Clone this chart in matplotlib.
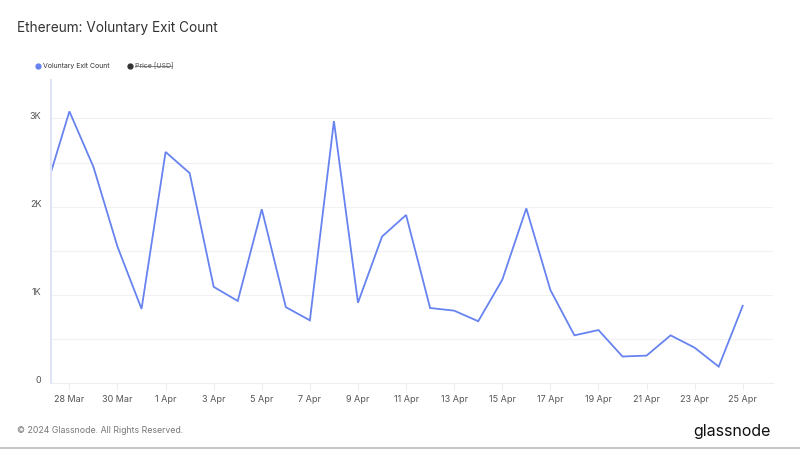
import datetime
import matplotlib
matplotlib.use("Agg")
import matplotlib.pyplot as plt
import matplotlib.dates as mdates
import matplotlib.transforms as mtransforms
from matplotlib.lines import Line2D

# daily voluntary exit count
dates = ["2024-03-27", "2024-03-28", "2024-03-29", "2024-03-30", "2024-03-31",
         "2024-04-01", "2024-04-02", "2024-04-03", "2024-04-04", "2024-04-05",
         "2024-04-06", "2024-04-07", "2024-04-08", "2024-04-09", "2024-04-10",
         "2024-04-11", "2024-04-12", "2024-04-13", "2024-04-14", "2024-04-15",
         "2024-04-16", "2024-04-17", "2024-04-18", "2024-04-19", "2024-04-20",
         "2024-04-21", "2024-04-22", "2024-04-23", "2024-04-24", "2024-04-25"]
exits = [2180, 3080, 2450, 1545, 840, 2620, 2380, 1090, 930, 1970,
         860, 710, 2970, 910, 1660, 1905, 850, 820, 700, 1170,
         1980, 1055, 540, 600, 300, 310, 540, 400, 185, 875]
tick_days = ["2024-03-28", "2024-03-30", "2024-04-01", "2024-04-03", "2024-04-05",
             "2024-04-07", "2024-04-09", "2024-04-11", "2024-04-13", "2024-04-15",
             "2024-04-17", "2024-04-19", "2024-04-21", "2024-04-23", "2024-04-25"]
y_ticks = [0, 1000, 2000, 3000]
y_labels = ["0", "1K", "2K", "3K"]

x_ax = [datetime.datetime.strptime(d, "%Y-%m-%d") for d in dates]
ticks = [datetime.datetime.strptime(d, "%Y-%m-%d") for d in tick_days]

plt.rcParams["font.family"] = ["Inter", "DejaVu Sans"]
fig = plt.figure(figsize=(8, 4.5), dpi=100)
ax = fig.add_axes([0.064, 0.149, 0.902, 0.673])

ax.plot(x_ax, exits, color="#6783f0", linewidth=1.3, solid_joinstyle="miter")

x0 = datetime.datetime(2024, 3, 27, 5, 50)
x1 = datetime.datetime(2024, 4, 26, 6, 0)
ax.set_xlim(x0, x1)
ax.set_ylim(0, 3435)

ax.set_yticks(y_ticks)
ax.set_yticklabels(y_labels)
ax.set_yticks([500, 1500, 2500], minor=True)
ax.grid(True, which="both", axis="y", color="#f1f1f3", linewidth=0.8)
ax.set_xticks(ticks)
ax.xaxis.set_major_formatter(mdates.DateFormatter("%-d %b"))

ax.tick_params(axis="y", which="both", length=0, labelsize=6.5, labelcolor="#555555", pad=7)
ax.tick_params(axis="x", length=5, color="#eeeeee", labelsize=6.5, labelcolor="#555555", pad=4)
# labels sit a little above their grid lines
shift = mtransforms.ScaledTranslation(0, 3 / 100, fig.dpi_scale_trans)
for lbl in ax.get_yticklabels():
    lbl.set_transform(lbl.get_transform() + shift)

for s in ["top", "right"]:
    ax.spines[s].set_visible(False)
ax.spines["left"].set_color("#dfe4fb")
ax.spines["left"].set_linewidth(1.5)
ax.spines["bottom"].set_color("#eeeeee")

fig.text(0.021, 0.937, "Ethereum: Voluntary Exit Count", fontsize=9.8, color="#333333", va="center")

# legend row
fig.add_artist(Line2D([0.048], [0.853], marker="o", color="#6783f0", markersize=3.5, transform=fig.transFigure))
fig.text(0.054, 0.853, "Voluntary Exit Count", fontsize=5, color="#333333", va="center")
fig.add_artist(Line2D([0.163], [0.853], marker="o", color="#333333", markersize=3.5, transform=fig.transFigure))
fig.text(0.169, 0.853, "Price [USD]", fontsize=5, color="#555555", va="center")
fig.add_artist(Line2D([0.169, 0.215], [0.853, 0.853], color="#555555", linewidth=0.5, transform=fig.transFigure))

fig.text(0.021, 0.044, "\u00a9 2024 Glassnode. All Rights Reserved.", fontsize=6.3, color="#777777", va="center")
fig.text(0.963, 0.042, "glassnode", fontsize=11.5, color="#111111", va="center", ha="right")
fig.add_artist(Line2D([0, 1], [0.004, 0.004], color="#bbbbbb", linewidth=1.2, transform=fig.transFigure))

fig.savefig("out.png", dpi=100)
